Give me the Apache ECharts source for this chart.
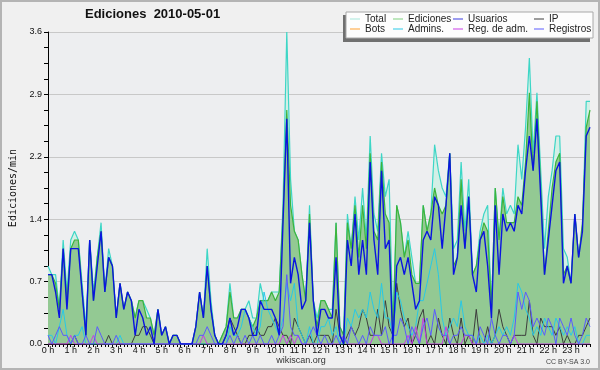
<!DOCTYPE html>
<html><head><meta charset="utf-8">
<script src="https://cdn.jsdelivr.net/npm/echarts@6/dist/echarts.min.js"></script>
<style>html,body{margin:0;padding:0;background:#f0f0f0}#c{width:600px;height:370px}</style>
</head><body><div id="c"></div><script>
// tick labels (one per hour, 6 ten-minute slots per hour)
const hourLabels = ['0 h','1 h','2 h','3 h','4 h','5 h','6 h','7 h','8 h','9 h','10 h','11 h','12 h','13 h','14 h','15 h','16 h','17 h','18 h','19 h','20 h','21 h','22 h','23 h'];
const seriesNames = ['Total','Ediciones','Usuarios','IP','Bots','Admins.','Reg. de adm.','Registros'];
// edits per minute, 10-minute slots
const total = [0.9,0.8,0.8,0.4,1.2,0.6, 1.2,1.3,1.2,0.7,0.2,1.2, 0.6,1.0,1.4,0.6,1.1,0.9, 0.3,0.7,0.4,0.6,0.5,0.3,
 0.5,0.5,0.4,0.3,0.1,0.4, 0.1,0.2,0.0,0.1,0.1,0.0, 0.0,0.0,0.0,0.2,0.6,0.3, 1.1,0.5,0.1,0.0,0.1,0.2,
 0.7,0.3,0.3,0.4,0.4,0.5, 0.3,0.3,0.7,0.5,0.5,0.6, 0.6,0.6,1.6,3.6,1.9,1.3, 1.2,0.8,0.5,1.6,0.5,0.3,
 0.5,0.5,0.4,0.4,1.4,0.2, 0.1,1.5,1.1,1.7,1.2,1.8, 1.2,2.4,1.5,1.3,2.2,1.7, 1.9,0.2,1.6,1.4,1.0,1.3,
 1.0,0.7,0.7,1.6,1.3,1.5, 2.3,2.0,1.8,1.7,2.2,1.1, 1.2,2.1,1.3,1.9,0.8,0.9, 1.3,1.5,1.6,0.4,1.8,1.2,
 1.8,1.5,1.6,1.5,2.3,1.9, 2.5,3.3,2.2,2.9,2.0,1.1, 1.7,2.0,2.4,2.4,1.1,1.0, 0.7,1.5,1.0,1.3,2.8,2.8];
const ediciones = [0.8,0.8,0.7,0.4,1.1,0.5, 1.1,1.2,1.2,0.6,0.1,1.2, 0.5,1.0,1.3,0.6,1.0,0.9, 0.3,0.7,0.4,0.6,0.5,0.3,
 0.5,0.5,0.3,0.3,0.1,0.4, 0.1,0.2,0.0,0.1,0.1,0.0, 0.0,0.0,0.0,0.2,0.6,0.3, 0.9,0.4,0.1,0.0,0.1,0.2,
 0.6,0.3,0.3,0.4,0.4,0.3, 0.2,0.3,0.5,0.5,0.5,0.6, 0.5,0.6,1.5,2.7,1.6,1.3, 1.2,0.8,0.5,1.5,0.5,0.2,
 0.5,0.5,0.4,0.3,1.4,0.2, 0.1,1.4,1.1,1.6,1.0,1.6, 1.1,2.2,1.3,1.2,2.1,1.5, 1.4,0.1,1.6,1.4,1.0,1.2,
 0.8,0.7,0.7,1.6,1.3,1.5, 1.8,1.6,1.5,1.6,2.2,0.9, 1.0,1.9,1.1,1.7,0.8,0.9, 1.2,1.4,1.3,0.4,1.8,1.2,
 1.7,1.4,1.4,1.4,1.7,1.6, 2.1,2.9,2.0,2.8,1.8,0.8, 1.3,1.8,2.1,2.2,0.8,0.9, 0.7,1.5,1.0,1.4,2.5,2.7];
const usuarios = [0.8,0.8,0.6,0.3,1.1,0.4, 1.1,1.1,1.1,0.6,0.1,1.2, 0.5,0.9,1.3,0.6,1.0,0.9, 0.3,0.7,0.4,0.6,0.5,0.1,
 0.4,0.3,0.1,0.2,0.0,0.4, 0.1,0.2,0.0,0.1,0.1,0.0, 0.0,0.0,0.0,0.2,0.6,0.3, 0.9,0.4,0.1,0.0,0.0,0.1,
 0.3,0.1,0.2,0.4,0.4,0.3, 0.1,0.1,0.5,0.4,0.4,0.4, 0.3,0.1,1.4,2.6,0.7,1.0, 0.8,0.4,0.5,1.4,0.5,0.1,
 0.4,0.4,0.3,0.3,1.0,0.1, 0.0,1.2,0.9,1.5,0.8,1.2, 0.8,2.1,1.2,0.8,2.0,1.1, 1.2,0.0,0.9,1.0,0.8,1.0,
 0.7,0.4,0.5,1.2,1.3,1.2, 1.7,1.6,1.1,1.6,2.2,0.8, 1.0,1.6,1.1,1.7,0.8,0.6, 1.2,1.3,0.9,0.3,1.6,0.8,
 1.5,1.3,1.4,1.3,1.6,1.5, 2.0,2.4,2.0,2.6,1.7,0.8, 1.2,1.6,2.0,2.1,0.7,0.9, 0.7,1.5,1.0,1.3,2.4,2.5];
const ip = [0,0,0,0,0,0, 0,0.1,0,0,0,0, 0,0,0,0,0.1,0, 0,0,0,0,0,0.1,
 0.1,0.2,0.2,0.1,0,0, 0,0,0,0,0,0, 0,0,0,0,0,0, 0,0,0,0,0,0.1,
 0.3,0.2,0.1,0,0,0.1, 0.1,0.2,0.1,0.1,0.2,0.2, 0.3,0.2,0.1,0.1,0,0.3, 0.2,0.1,0,0.1,0,0.1,
 0.1,0.1,0.1,0,0.4,0.1, 0,0.1,0.2,0.1,0.2,0.4, 0.3,0.1,0.1,0.4,0.1,0.5, 0.2,0.1,0.7,0.4,0.2,0.3,
 0,0.1,0.3,0.4,0,0.1, 0,0.3,0.1,0,0.3,0.1, 0,0.3,0,0.1,0,0.4, 0,0,0.2,0,0.1,0.4,
 0.2,0.1,0,0.1,0.1,0.1, 0.1,0.5,0.1,0,0.3,0.2, 0.2,0.2,0.1,0.2,0,0.1, 0,0,0.1,0.1,0.2,0.3];
const bots = []; // no bot edits that day
const admins = [0.1,0.1,0,0.2,0.4,0.1, 0,0.1,0.1,0.2,0,0, 0,0,0,0,0,0, 0,0.1,0,0,0,0,
 0,0,0,0,0,0, 0,0,0,0,0,0, 0,0,0,0,0,0, 0,0,0,0,0,0,
 0.2,0.1,0.1,0.2,0.4,0.3, 0.2,0.1,0.2,0.6,0.4,0.3, 0.2,0.1,0.3,0.7,0.5,0.7, 0.2,0.1,0,0.2,0,0,
 0.2,0.2,0.3,0.1,0.2,0, 0,0.3,0.2,0.4,0.3,0.4, 0.3,0.6,0.4,0.3,0.7,0.3, 0.3,0.1,0.6,0.5,0.3,0.2,
 0.1,0.2,0.5,0.5,0.7,0.9, 1.1,0.8,0.3,0.1,0.2,0.3, 0.2,0.5,0.2,0.1,0.1,0, 0.1,0,0.1,0,0.1,0.2,
 0.1,0.2,0.1,0.3,0.7,0.6, 0.4,0.3,0.1,0.2,0.1,0.3, 0.2,0.1,0.3,0.2,0.1,0.2, 0.1,0.2,0,0,0.1,0.1];
const regAdm = [0,0,0,0,0,0, 0.1,0,0,0,0,0, 0.1,0,0,0,0,0, 0,0,0,0,0,0,
 0,0,0,0,0,0, 0,0,0,0,0,0, 0,0,0,0,0,0.1, 0,0,0,0,0,0,
 0,0,0,0,0,0, 0,0,0,0,0,0, 0,0,0.1,0,0.1,0, 0.1,0,0,0,0,0,
 0,0,0,0,0,0, 0.1,0,0,0,0,0, 0,0,0.1,0.1,0,0, 0,0,0,0,0,0.1,
 0,0.2,0,0.3,0,0, 0,0,0,0.2,0,0, 0,0,0.1,0.1,0,0, 0,0,0,0,0,0,
 0,0,0,0.1,0,0, 0,0,0,0,0,0, 0,0,0,0,0,0, 0,0,0,0,0,0];
const registros = [0.1,0,0.1,0.2,0.1,0.1, 0,0.1,0,0,0.1,0, 0,0.2,0.1,0,0,0, 0.1,0,0,0,0,0,
 0,0,0,0,0,0, 0,0,0,0,0,0, 0,0,0,0,0.1,0.1, 0.2,0.1,0,0,0,0,
 0.1,0,0.1,0,0.1,0, 0.1,0,0.1,0,0,0.1, 0,0.1,0.2,0.8,0.2,0.1, 0.1,0,0,0.1,0.2,0.1,
 0,0.1,0,0,0.1,0, 0.1,0,0.2,0.1,0,0.1, 0,0.2,0.1,0.1,0.1,0.2, 0,0.1,0.1,0.3,0.2,0,
 0.2,0.1,0,0.2,0.3,0.1, 0.4,0.2,0.1,0.1,0,0.1, 0.1,0.2,0.1,0.1,0.1,0, 0.2,0.1,0,0.3,0.1,0,
 0.1,0.1,0,0.1,0.6,0.4, 0.6,0.5,0.2,0.3,0.2,0.1, 0.3,0.2,0,0.3,0.2,0.1, 0.3,0.1,0,0.1,0.3,0.2];

const xy = a => a.map((v, i) => [i, v]);
const font = 'Liberation Sans, Arial, sans-serif';
function line(name, data, legendColor, lineColor, width, z, area) {
  const s = { name, type: 'line', data: xy(data), symbol: 'none', color: legendColor, z,
    lineStyle: { color: lineColor, width }, emphasis: { disabled: true } };
  if (area) s.areaStyle = { color: area, opacity: 1 };
  return s;
}
const legendCols = [['Total','Bots'],['Ediciones','Admins.'],['Usuarios','Reg. de adm.'],['IP','Registros']];
const legendX = [350, 393, 453, 534];

const chart = echarts.init(document.getElementById('c'));
chart.setOption({
  animation: false,
  backgroundColor: '#f0f0f0',
  title: { text: 'Ediciones  2010-05-01', left: 85, top: 8, padding: 0,
    textStyle: { fontFamily: font, fontSize: 13, fontWeight: 'bold', color: '#111' } },
  grid: { left: 46, right: 10, top: 32, bottom: 26, show: true, backgroundColor: '#edeef0', borderWidth: 0 },
  legend: legendCols.map((d, i) => ({ data: d, orient: 'vertical', left: legendX[i], top: 14, z: 10,
    itemWidth: 10, itemHeight: 1, itemGap: 0, icon: 'rect', padding: 0, selectedMode: false,
    textStyle: { fontFamily: font, fontSize: 10, lineHeight: 10, color: '#222' } })),
  xAxis: { type: 'value', min: 0, max: 143, interval: 1,
    axisLine: { lineStyle: { color: '#000', width: 1 } },
    axisTick: { length: 3, lineStyle: { color: '#000' } },
    axisLabel: { margin: 2, fontFamily: font, fontSize: 9, color: '#111',
      formatter: v => (v % 6 === 0 ? hourLabels[v / 6] : '') },
    splitLine: { show: false } },
  yAxis: { type: 'value', min: 0, max: 3.6, interval: 0.72,
    name: 'Ediciones/min', nameLocation: 'middle', nameGap: 30,
    nameTextStyle: { fontFamily: 'DejaVu Sans Mono', fontSize: 10, color: '#111' },
    axisLine: { show: true, lineStyle: { color: '#000' } },
    axisTick: { show: true, length: 4, lineStyle: { color: '#000' } },
    minorTick: { show: true, splitNumber: 4, length: 4, lineStyle: { color: '#000' } },
    axisLabel: { margin: 6, fontFamily: font, fontSize: 9, color: '#111', formatter: v => v.toFixed(1) },
    splitLine: { lineStyle: { color: '#c8c8c8' } } },
  series: [
    line(seriesNames[0], total, '#a6e6da', '#3dd6c6', 1.2, 1, '#d3efe6'),
    line(seriesNames[1], ediciones, '#7ed07e', '#3cb43c', 1.2, 2, '#93c993'),
    line(seriesNames[3], ip, '#3c3c3c', '#3c3c3c', 1, 3),
    line(seriesNames[4], bots, '#ffa030', '#ffa030', 1, 3),
    line(seriesNames[5], admins, '#28c8e6', '#28c8e6', 1, 3),
    line(seriesNames[6], regAdm, '#c83ce6', '#c83ce6', 1, 3),
    line(seriesNames[7], registros, '#5a5aff', '#5a5aff', 1, 3),
    line(seriesNames[2], usuarios, '#3a3ae0', '#0a14e0', 1.4, 4)
  ],
  graphic: [
    { type: 'rect', z: 5, shape: { x: 343, y: 15, width: 247, height: 27 }, style: { fill: '#707070' } },
    { type: 'rect', z: 6, shape: { x: 346, y: 12, width: 247, height: 26 }, style: { fill: '#fdfdfd', stroke: '#a8a8a8', lineWidth: 1 } },
    { type: 'text', z: 6, x: 301, y: 361, style: { text: 'wikiscan.org', font: '9px ' + font, fill: '#333', align: 'center', verticalAlign: 'middle' } },
    { type: 'text', z: 6, x: 590, y: 362, style: { text: 'CC BY-SA 3.0', font: '7px ' + font, fill: '#444', align: 'right', verticalAlign: 'middle' } },
    { type: 'rect', z: 6, shape: { x: 1, y: 1, width: 598, height: 368 }, style: { fill: 'none', stroke: '#b4b4b4', lineWidth: 2 } }
  ]
});
</script></body></html>
